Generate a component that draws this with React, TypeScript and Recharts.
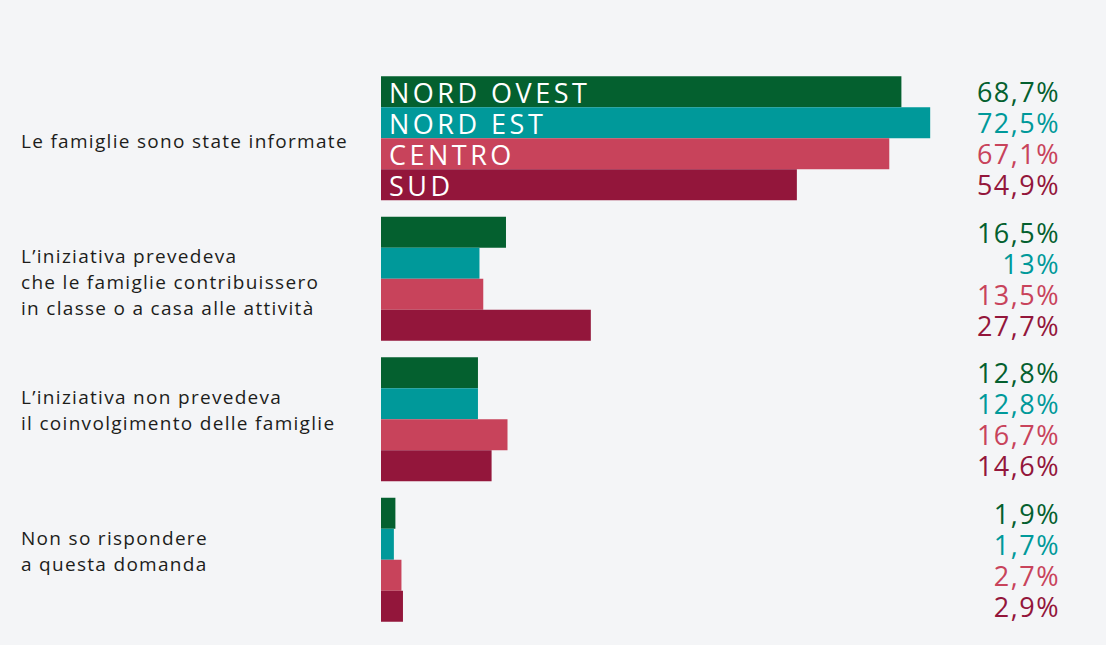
import { BarChart, Bar, XAxis, YAxis, LabelList } from 'recharts'

const categories = [
  'Le famiglie sono state informate',
  'L’iniziativa prevedeva\nche le famiglie contribuissero\nin classe o a casa alle attività',
  'L’iniziativa non prevedeva\nil coinvolgimento delle famiglie',
  'Non so rispondere\na questa domanda',
]

const regions = ['NORD OVEST', 'NORD EST', 'CENTRO', 'SUD']
const nordOvest = [68.7, 16.5, 12.8, 1.9]
const nordEst = [72.5, 13, 12.8, 1.7]
const centro = [67.1, 13.5, 16.7, 2.7]
const sud = [54.9, 27.7, 14.6, 2.9]

const COLORS = ['#04602f', '#00999a', '#c8435b', '#93163b']
const BG = '#f4f5f7'
const FONT = '"Open Sans", Lato, sans-serif'
const VALUE_X = 1060

const data = categories.map((label, i) => ({
  label,
  r0: nordOvest[i],
  r1: nordEst[i],
  r2: centro[i],
  r3: sud[i],
}))

const fmt = (v: number) => String(v).replace('.', ',') + '%'

function CategoryTick(props: { x?: number; y?: number; payload?: { value: string } }) {
  const { y = 0, payload } = props
  const lines = (payload?.value ?? '').split('\n')
  // two-line labels sit a bit higher than the group centre in the original
  const adjust = lines.length === 2 ? -8 : 4
  const start = y - ((lines.length - 1) * 26) / 2 + adjust
  return (
    <text
      x={21}
      y={start}
      fill="#1d1d1b"
      fontSize={19}
      fontFamily={FONT}
      letterSpacing={1.3}
      dominantBaseline="central"
    >
      {lines.map((l, i) => (
        <tspan key={i} x={21} y={start + i * 26}>
          {l}
        </tspan>
      ))}
    </text>
  )
}

function makeValueLabel(color: string) {
  return (props: any) => {
    const { y = 0, height = 0, value } = props
    return (
      <text
        x={VALUE_X}
        y={Number(y) + Number(height) / 2}
        fill={color}
        fontSize={27}
        fontFamily={FONT}
        letterSpacing={1.5}
        textAnchor="end"
        dominantBaseline="central"
      >
        {fmt(Number(value))}
      </text>
    )
  }
}

function makeNameLabel(name: string) {
  return (props: any) => {
    const { x = 0, y = 0, height = 0, index } = props
    if (index !== 0) return null
    return (
      <text
        x={Number(x) + 8}
        y={Number(y) + Number(height) / 2 + 1}
        fill="#ffffff"
        fontSize={27}
        fontFamily={FONT}
        letterSpacing={3.5}
        dominantBaseline="central"
      >
        {name}
      </text>
    )
  }
}

export default function App() {
  return (
    <div style={{ position: 'fixed', left: 0, top: 0, width: 1106, height: 645, background: BG }}>
      <BarChart
        width={1106}
        height={645}
        data={data}
        layout="vertical"
        margin={{ top: 67, right: 119, bottom: 16, left: 0 }}
        barCategoryGap={9.25}
        barGap={0}
      >
        <XAxis type="number" domain={[0, 80]} hide />
        <YAxis
          type="category"
          dataKey="label"
          width={381}
          axisLine={false}
          tickLine={false}
          tick={<CategoryTick />}
          interval={0}
        />
        {['r0', 'r1', 'r2', 'r3'].map((key, i) => (
          <Bar key={key} dataKey={key} fill={COLORS[i]} isAnimationActive={false}>
            <LabelList dataKey={key} content={makeValueLabel(COLORS[i])} />
            <LabelList dataKey={key} content={makeNameLabel(regions[i])} />
          </Bar>
        ))}
      </BarChart>
    </div>
  )
}
